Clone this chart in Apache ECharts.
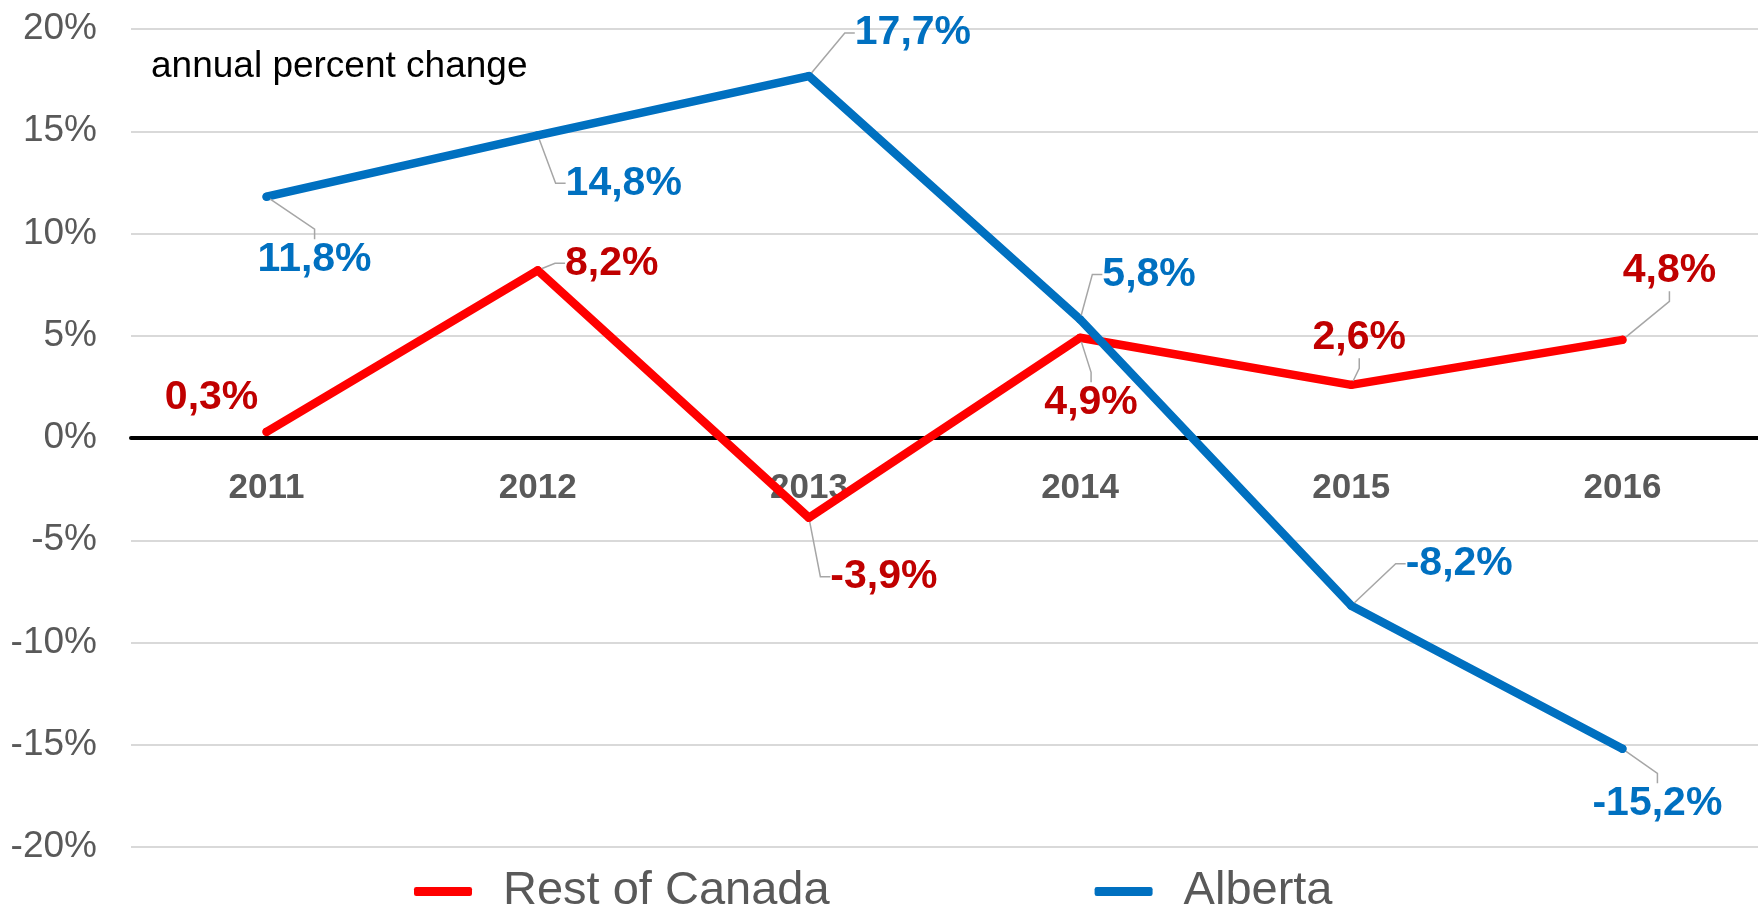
<!DOCTYPE html>
<html>
<head>
<meta charset="utf-8">
<script src="https://cdn.jsdelivr.net/npm/echarts@6/dist/echarts.min.js"></script>
<style>
  html, body { margin: 0; padding: 0; background: #fff; }
  #main { width: 1758px; height: 908px; }
</style>
</head>
<body>
<div id="main"></div>
<script>
var years = ['2011', '2012', '2013', '2014', '2015', '2016'];
var restOfCanada = [0.3, 8.2, -3.9, 4.9, 2.6, 4.8];
var alberta = [11.8, 14.8, 17.7, 5.8, -8.2, -15.2];
var yTicks = { min: -20, max: 20, step: 5 };

// label offsets from the point (px), like the moved labels in the original
var restOffsets = [[-55, -34], [74, -7], [75, 59], [11, 65], [8, -47], [47, -69]];
var albertaOffsets = [[48, 63], [86, 48], [104, -43], [69, -45], [108, -42], [35, 55]];

var gridTop = 29, gridBottom = 61, chartHeight = 908;

function pct(v) {
    return v.toFixed(1).replace('.', ',') + '%';
}

function buildData(values, noLeader) {
    return values.map(function (v, i) {
        var item = { value: v };
        if (noLeader && noLeader.indexOf(i) >= 0) {
            item.labelLine = { show: false };
        }
        return item;
    });
}

function lineSeries(name, values, lineColor, labelColor, offsets, noLeader) {
    return {
        name: name,
        type: 'line',
        data: buildData(values, noLeader),
        symbol: 'circle',
        symbolSize: 8,
        showSymbol: true,
        itemStyle: { color: lineColor, borderWidth: 0 },
        lineStyle: { color: lineColor, width: 8.5, cap: 'round', join: 'round' },
        label: {
            show: true,
            position: 'inside',
            color: labelColor,
            fontFamily: 'Liberation Sans',
            fontWeight: 'bold',
            fontSize: 41,
            padding: 6,
            formatter: function (p) { return pct(p.value); }
        },
        labelLine: {
            show: true,
            length2: 10,
            lineStyle: { color: '#A6A6A6', width: 1.5 }
        },
        labelLayout: function (p) {
            var o = offsets[p.dataIndex];
            return { dx: o[0], dy: o[1] };
        },
        emphasis: { disabled: true },
        animation: false
    };
}

// move the category axis (line + labels) up to the zero line
var plotHeight = chartHeight - gridTop - gridBottom;
var zeroOffset = -plotHeight * (0 - yTicks.min) / (yTicks.max - yTicks.min);

var option = {
    backgroundColor: '#ffffff',
    animation: false,
    grid: {
        left: 131,
        right: -14,
        top: gridTop,
        bottom: gridBottom,
        containLabel: false
    },
    legend: {
        left: 409,
        top: 863,
        itemWidth: 58,
        itemHeight: 9,
        itemGap: 265,
        icon: 'roundRect',
        textStyle: {
            fontFamily: 'Liberation Sans',
            fontSize: 47,
            color: '#595959',
            padding: [0, 0, 0, 26]
        },
        data: ['Rest of Canada', 'Alberta']
    },
    graphic: [{
        type: 'text',
        left: 151,
        top: 48,
        style: {
            text: 'annual percent change',
            font: '37px "Liberation Sans"',
            fill: '#000000'
        }
    }],
    xAxis: {
        type: 'category',
        data: years,
        boundaryGap: true,
        offset: zeroOffset,
        axisLine: { show: true, onZero: false, lineStyle: { color: '#000000', width: 4 } },
        axisTick: { show: false },
        axisLabel: {
            margin: 33,
            color: '#595959',
            fontFamily: 'Liberation Sans',
            fontWeight: 'bold',
            fontSize: 35
        },
        splitLine: { show: false }
    },
    yAxis: {
        type: 'value',
        min: yTicks.min,
        max: yTicks.max,
        interval: yTicks.step,
        axisLine: { show: false },
        axisTick: { show: false },
        axisLabel: {
            margin: 34,
            color: '#595959',
            fontFamily: 'Liberation Sans',
            fontSize: 37,
            formatter: '{value}%'
        },
        splitLine: { lineStyle: { color: '#D9D9D9', width: 2 } }
    },
    series: [
        lineSeries('Rest of Canada', restOfCanada, '#FF0000', '#C00000', restOffsets, [0]),
        lineSeries('Alberta', alberta, '#0070C0', '#0070C0', albertaOffsets, [])
    ]
};

var myChart = echarts.init(document.getElementById('main'));
myChart.setOption(option, true);
</script>
</body>
</html>
